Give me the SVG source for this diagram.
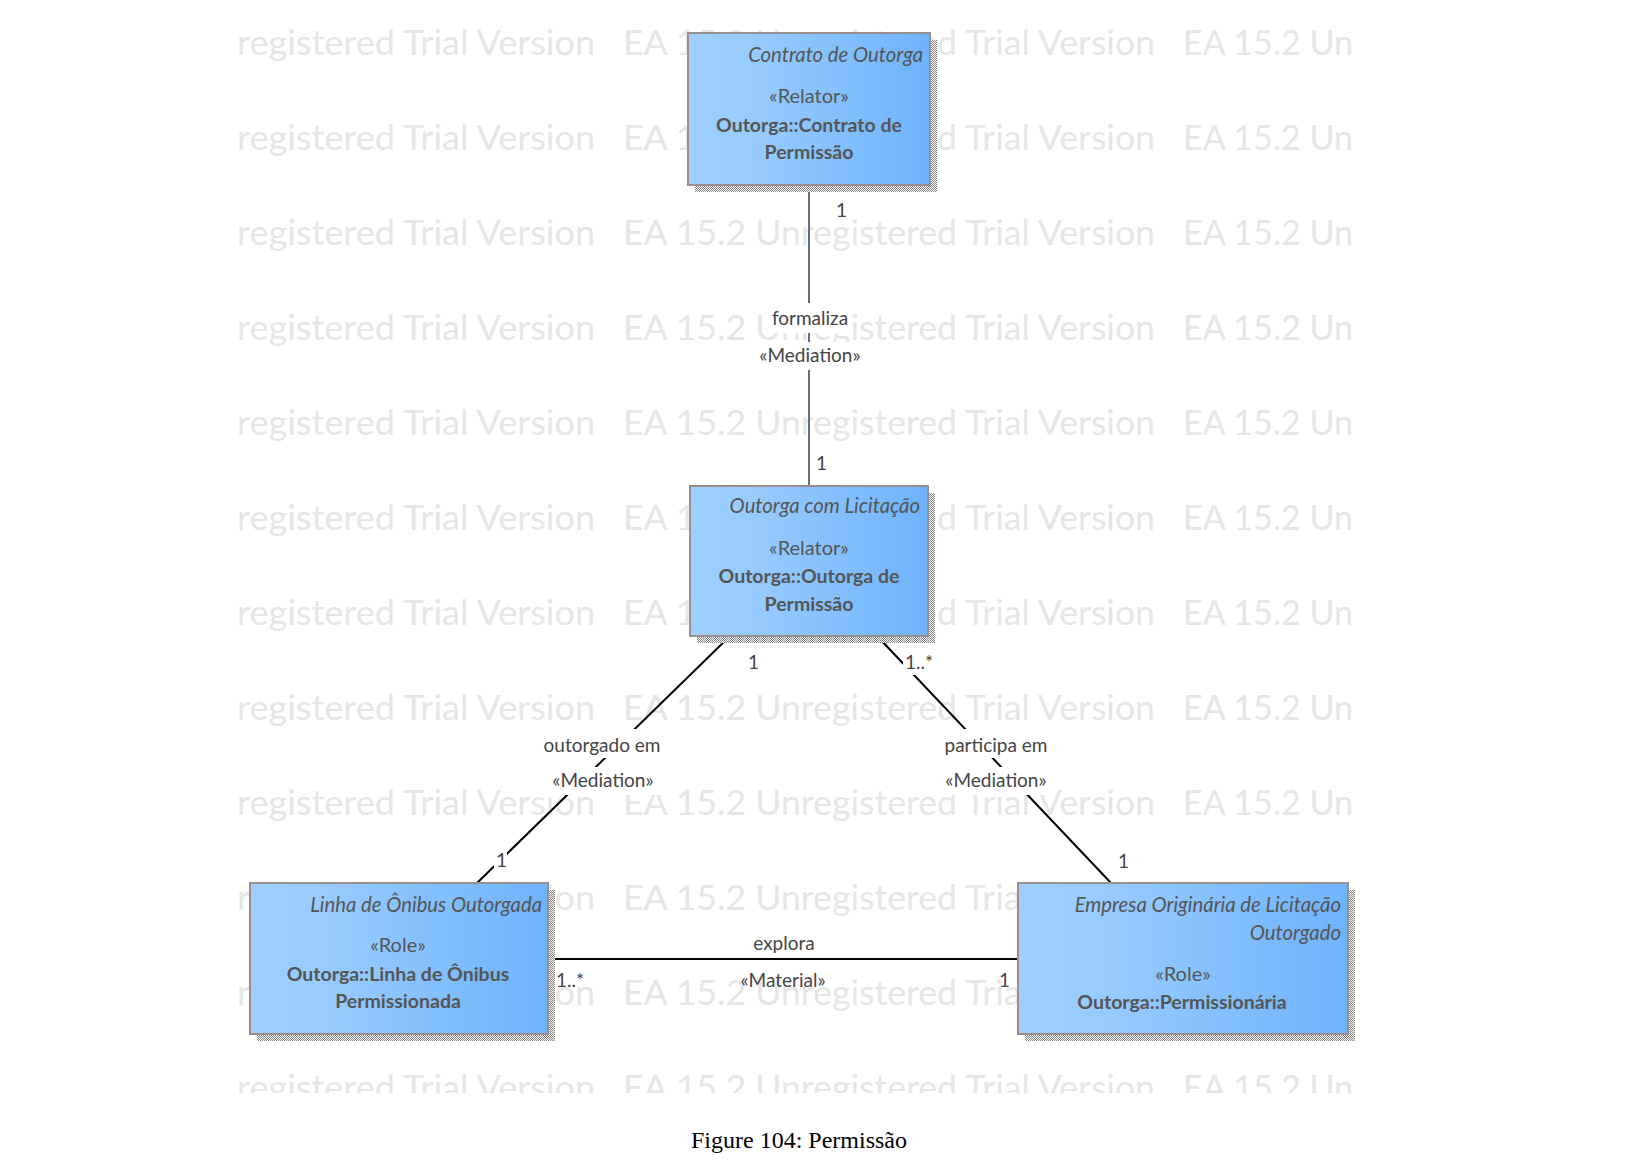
<svg xmlns="http://www.w3.org/2000/svg" width="1652" height="1176" viewBox="0 0 1652 1176">
<defs>
<style>
.wm{font-family:Lato,"Open Sans",sans-serif;font-size:35px;fill:#e6e6e6}
.box{fill:url(#bg);stroke:#9a8e8e;stroke-width:2}
.sh{fill:url(#dots)}
.t{font-family:Lato,"Open Sans",sans-serif;font-size:20px;fill:#555555}
.nm{font-style:italic;text-anchor:end;font-size:20.3px}
.st{text-anchor:middle}
.b{font-weight:bold;text-anchor:middle;font-size:19.5px}
.l{font-family:Lato,"Open Sans",sans-serif;font-size:19px;fill:#444444}
.c{text-anchor:middle}
.lbg{fill:#ffffff}
.ln{stroke:#000000;stroke-width:2;fill:none}
.ln2{stroke:#5f6e7e;stroke-width:2;fill:none}
.cap{font-family:"Liberation Serif","Times New Roman",serif;font-size:24px;fill:#000000;text-anchor:middle}
</style>
<linearGradient id="bg" x1="0" y1="0" x2="1" y2="0">
<stop offset="0" stop-color="#9ecfff"/>
<stop offset="0.3" stop-color="#96caff"/>
<stop offset="1" stop-color="#6db3fb"/>
</linearGradient>
<pattern id="dots" width="2" height="2" patternUnits="userSpaceOnUse">
<rect width="2" height="2" fill="#ffffff"/>
<rect width="1" height="1" fill="#808080"/>
<rect x="1" y="1" width="1" height="1" fill="#808080"/>
</pattern>
<clipPath id="wmclip"><rect x="230" y="0" width="1130" height="1093"/></clipPath>
<g id="wmrow">
<text class="wm" x="237" textLength="358" lengthAdjust="spacingAndGlyphs">registered Trial Version</text>
<text class="wm" x="623" textLength="532" lengthAdjust="spacingAndGlyphs">EA 15.2 Unregistered Trial Version</text>
<text class="wm" x="1183" textLength="170" lengthAdjust="spacingAndGlyphs">EA 15.2 Un</text>
</g>
</defs>
<rect width="1652" height="1176" fill="#ffffff"/>
<g id="watermark" clip-path="url(#wmclip)">
<use href="#wmrow" y="55"/>
<use href="#wmrow" y="150"/>
<use href="#wmrow" y="245"/>
<use href="#wmrow" y="340"/>
<use href="#wmrow" y="435"/>
<use href="#wmrow" y="530"/>
<use href="#wmrow" y="625"/>
<use href="#wmrow" y="720"/>
<use href="#wmrow" y="815"/>
<use href="#wmrow" y="910"/>
<use href="#wmrow" y="1005"/>
<use href="#wmrow" y="1100"/>
</g>
<g id="connectors">
<g id="c-formaliza">
<line class="ln2" x1="809" y1="185" x2="809" y2="486"/>
<text class="l" x="836" y="217">1</text>
<rect class="lbg" x="769" y="303" width="82" height="30"/>
<text class="l c" x="810" y="325">formaliza</text>
<rect class="lbg" x="754" y="342" width="112" height="28"/>
<text class="l c" x="810" y="362">«Mediation»</text>
<text class="l" x="816" y="470">1</text>
</g>
<g id="c-outorgado">
<line class="ln" x1="729" y1="637" x2="477" y2="883"/>
<text class="l" x="748" y="669">1</text>
<rect class="lbg" x="540" y="729" width="124" height="29"/>
<text class="l c" x="602" y="752">outorgado em</text>
<rect class="lbg" x="546" y="767" width="114" height="28"/>
<text class="l c" x="603" y="787">«Mediation»</text>
<rect class="lbg" x="494" y="850" width="13" height="22"/>
<text class="l" x="496" y="867">1</text>
</g>
<g id="c-participa">
<line class="ln" x1="878" y1="637" x2="1111" y2="883"/>
<rect class="lbg" x="903" y="653" width="38" height="22"/>
<text class="l" x="905" y="669">1..*</text>
<rect class="lbg" x="941" y="729" width="110" height="29"/>
<text class="l c" x="996" y="752">participa em</text>
<rect class="lbg" x="939" y="767" width="114" height="28"/>
<text class="l c" x="996" y="787">«Mediation»</text>
<text class="l" x="1118" y="868">1</text>
</g>
<g id="c-explora">
<line class="ln" x1="548" y1="959" x2="1018" y2="959"/>
<rect class="lbg" x="750" y="930" width="68" height="26"/>
<text class="l c" x="784" y="950">explora</text>
<text class="l c" x="783" y="987">«Material»</text>
<text class="l" x="556" y="987">1..*</text>
<text class="l" x="1010" y="987" text-anchor="end">1</text>
</g>
</g>
<g id="n-contrato">
<rect class="sh" x="695" y="40" width="242" height="152"/>
<rect class="box" x="688" y="33" width="242" height="152"/>
<text class="t nm" x="923" y="62">Contrato de Outorga</text>
<text class="t st" x="809" y="103">«Relator»</text>
<text class="t b" x="809" y="132">Outorga::Contrato de</text>
<text class="t b" x="809" y="159">Permissão</text>
</g>
<g id="n-outorga">
<rect class="sh" x="697" y="493" width="238" height="150"/>
<rect class="box" x="690" y="486" width="238" height="150"/>
<text class="t nm" x="920" y="513">Outorga com Licitação</text>
<text class="t st" x="809" y="555">«Relator»</text>
<text class="t b" x="809" y="583">Outorga::Outorga de</text>
<text class="t b" x="809" y="611">Permissão</text>
</g>
<g id="n-linha">
<rect class="sh" x="257" y="890" width="298" height="151"/>
<rect class="box" x="250" y="883" width="298" height="151"/>
<text class="t nm" x="542" y="912">Linha de Ônibus Outorgada</text>
<text class="t st" x="398" y="952">«Role»</text>
<text class="t b" x="398" y="981">Outorga::Linha de Ônibus</text>
<text class="t b" x="398" y="1008">Permissionada</text>
</g>
<g id="n-empresa">
<rect class="sh" x="1025" y="890" width="330" height="151"/>
<rect class="box" x="1018" y="883" width="330" height="151"/>
<text class="t nm" x="1341" y="912">Empresa Originária de Licitação</text>
<text class="t nm" x="1341" y="940">Outorgado</text>
<text class="t st" x="1183" y="981">«Role»</text>
<text class="t b" x="1182" y="1009">Outorga::Permissionária</text>
</g>
<text class="cap" x="799" y="1148">Figure 104: Permissão</text>
</svg>
